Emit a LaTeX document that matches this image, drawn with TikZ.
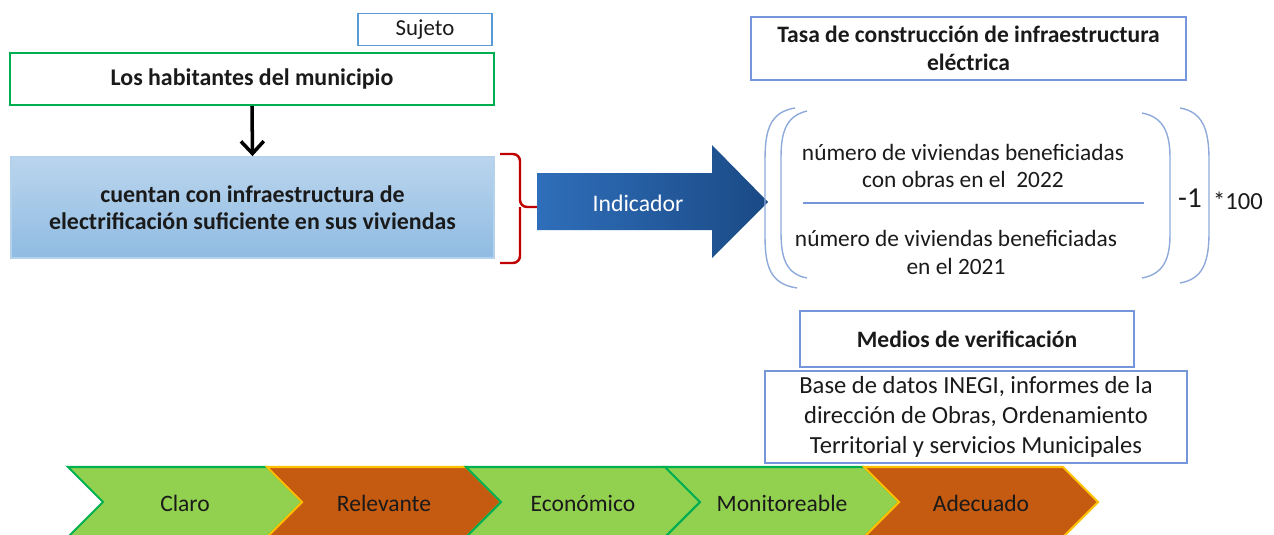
\documentclass[tikz,border=0pt]{standalone}
\usepackage{fontspec}
\setmainfont{Carlito}
\usepackage{tikz}
\usetikzlibrary{arrows.meta}
\usetikzlibrary{positioning}
\definecolor{mblue}{HTML}{5B9BD5}
\definecolor{mframe}{HTML}{7596DA}
\definecolor{mgreen}{HTML}{00B050}
\definecolor{mlime}{HTML}{92D050}
\definecolor{morange}{HTML}{C55A11}
\definecolor{mgold}{HTML}{FFC000}
\definecolor{mred}{HTML}{C00000}
\definecolor{mparen}{HTML}{8EAADB}
\definecolor{mtext}{HTML}{1A1A1A}
\definecolor{arrowl}{HTML}{2F6EBA}
\definecolor{arrowr}{HTML}{1A4A85}
\tikzset{box/.style = {draw, line width = 1pt, fill = white, inner sep = 0, align = center, text = mtext}}
\tikzset{chev/.style = {line width = 1.2pt, line join = miter}}
\tikzset{paren/.style = {mparen, line width = 0.8pt}}
\newcommand{\bodyfont}{\fontsize{13.3}{15.9}\selectfont}

\begin{document}
\begin{tikzpicture}[x = 0.02cm, y = -0.02cm]
    \clip (0, 0) rectangle (1274, 534);

    \node [box, draw = mblue, minimum width = 2.68cm, minimum height = 0.64cm,
           font = \fontsize{13}{14}\selectfont] (sujeto) at (425, 29.5) {Sujeto};
    \node [box, draw = mgreen, line width = 1.2pt, minimum width = 9.68cm, minimum height = 1.04cm,
           font = \fontsize{13.6}{15}\selectfont\bfseries] (habit) at (252, 79) {Los habitantes del municipio};
    \node [box, draw = mblue!45, top color = mblue!42!white, bottom color = mblue!68!white,
           minimum width = 9.66cm, minimum height = 2.02cm,
           font = \fontsize{13.6}{15.3}\selectfont\bfseries] (cuentan) at (252.5, 207.5)
          {cuentan con infraestructura de\\electrificación suficiente en sus viviendas};
    \draw [-{Straight Barb[length = 7pt, width = 13pt]}, line width = 2pt] (habit.south) -- (cuentan.north);

    % llave roja
    \coordinate (llave) at (537, 207);
    \draw [mred, line width = 1.4pt, rounded corners = 4pt]
          (500, 154) -- (520, 154) -- (520, 207) -- (llave) (520, 207) -- (520, 263) -- (500, 263);

    % flecha del indicador
    \shade [left color = arrowl, right color = arrowr]
          (537, 173) -- (712, 173) -- (712, 145) -- (768, 202) -- (712, 258) -- (712, 230) -- (537, 230) -- cycle;
    \node [white, font = \fontsize{13.5}{15}\selectfont] (ind) at (638, 203) {Indicador};

    \node [box, draw = mframe, minimum width = 8.7cm, minimum height = 1.26cm,
           font = \fontsize{13.4}{15.9}\selectfont\bfseries] (tasa) at (968.5, 48.5)
          {Tasa de construcción de infraestructura\\eléctrica};

    % formula
    \draw [paren] (795, 108) .. controls (770, 112) and (765, 130) .. (765, 160) -- (765, 236)
                  .. controls (765, 266) and (770, 284) .. (797, 288);
    \draw [paren] (807, 111) .. controls (786, 116) and (781, 132) .. (781, 158) -- (781, 232)
                  .. controls (781, 258) and (786, 274) .. (807, 278);
    \draw [paren] (1142, 113) .. controls (1163, 117) and (1170, 132) .. (1170, 158) -- (1170, 234)
                  .. controls (1170, 260) and (1163, 274) .. (1142, 278);
    \draw [paren] (1180, 108) .. controls (1203, 112) and (1209, 130) .. (1209, 160) -- (1209, 232)
                  .. controls (1209, 262) and (1203, 279) .. (1180, 283);
    \draw [mframe, line width = 0.8pt] (803, 203) -- (1144, 203);
    \node [align = center, text = mtext, font = \bodyfont] (num) at (963, 166)
          {número de viviendas beneficiadas\\con obras en el~~2022};
    \node [align = center, text = mtext, font = \bodyfont] (den) at (956, 252)
          {número de viviendas beneficiadas\\en el 2021};
    \node [text = mtext, font = \fontsize{16.5}{18}\selectfont] (menos) at (1190, 198) {-1};
    \node [text = mtext, font = \fontsize{14}{15}\selectfont] (cien) at (1238, 201) {*100};

    \node [box, draw = mframe, minimum width = 6.68cm, minimum height = 1.12cm,
           font = \fontsize{13.4}{15}\selectfont\bfseries] (medios) at (967, 339) {Medios de verificación};
    \node [box, draw = mframe, minimum width = 8.44cm, minimum height = 1.84cm,
           font = \fontsize{14}{17}\selectfont] (base) at (976, 417)
          {Base de datos INEGI, informes de la\\dirección de Obras, Ordenamiento\\Territorial y servicios Municipales};

    % criterios
    \foreach \x/\lbl/\fillc/\linec [count = \i] in {68/Claro/mlime/mgreen, 267/Relevante/morange/mgold,
                                                   466/Económico/mlime/mgreen, 665/Monitoreable/mlime/mgreen,
                                                   864/Adecuado/morange/mgold} {
      \draw [chev, fill = \fillc, draw = \linec]
            (\x, 467) -- ++(199, 0) -- ++(35, 35) -- ++(-35, 35) -- ++(-199, 0) -- ++(35, -35) -- cycle;
      \node [text = mtext, font = \fontsize{13.4}{15}\selectfont] (crit\i) at (\x + 117, 503) {\lbl};
    }
\end{tikzpicture}
\end{document}
